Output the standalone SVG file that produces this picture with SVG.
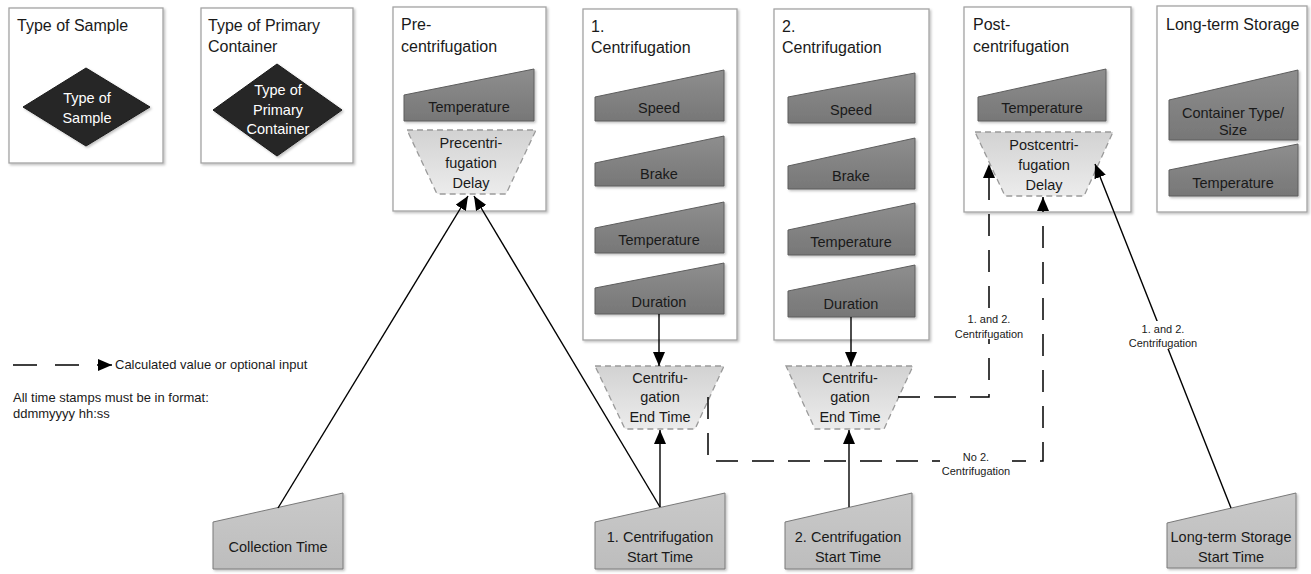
<svg xmlns="http://www.w3.org/2000/svg" width="1311" height="574" viewBox="0 0 1311 574">
<defs>
  <linearGradient id="gDark" x1="0" y1="0" x2="0" y2="1">
    <stop offset="0" stop-color="#8e8e8e"/>
    <stop offset="1" stop-color="#777777"/>
  </linearGradient>
  <linearGradient id="gLight" x1="0" y1="0" x2="0" y2="1">
    <stop offset="0" stop-color="#c9c9c9"/>
    <stop offset="1" stop-color="#bdbdbd"/>
  </linearGradient>
  <linearGradient id="gTrap" x1="0" y1="0" x2="0" y2="1">
    <stop offset="0" stop-color="#d2d2d2"/>
    <stop offset="1" stop-color="#ececec"/>
  </linearGradient>
  <filter id="sh" x="-10%" y="-10%" width="130%" height="130%">
    <feDropShadow dx="1.5" dy="1.5" stdDeviation="1.2" flood-color="#000" flood-opacity="0.25"/>
  </filter>
  <marker id="ah" viewBox="0 0 14 12" refX="14" refY="6" markerWidth="14" markerHeight="12" markerUnits="userSpaceOnUse" orient="auto">
    <path d="M0,0 L14,6 L0,12 Z" fill="#000"/>
  </marker>
</defs>
<style>
  .box { fill: #ffffff; stroke: #a3a3a3; stroke-width: 1.3; filter: url(#sh); }
  .dark { fill: url(#gDark); stroke: #5e5e5e; stroke-width: 1; filter: url(#sh); }
  .light { fill: url(#gLight); stroke: #7a7a7a; stroke-width: 1; filter: url(#sh); }
  .trap { fill: url(#gTrap); stroke: #9a9a9a; stroke-width: 1.3; stroke-dasharray: 6 4; }
  .dia { fill: #262626; stroke: #1a1a1a; stroke-width: 1; filter: url(#sh); }
  text { font-family: "Liberation Sans", Arial, sans-serif; fill: #1a1a1a; }
  .title { font-size: 16px; }
  .lbl { font-size: 14.5px; text-anchor: middle; }
  .wlbl { font-size: 14.5px; text-anchor: middle; fill: #ffffff; }
  .small { font-size: 11px; text-anchor: middle; }
  .note { font-size: 13px; }
  .solid { fill: none; stroke: #000; stroke-width: 1.4; }
  .dash { fill: none; stroke: #000; stroke-width: 1.5; stroke-dasharray: 22 14; }
</style>

<g id="type-of-sample">
  <rect class="box" x="9" y="8" width="154" height="155"/>
  <text class="title" x="17" y="31">Type of Sample</text>
  <polygon class="dia" points="23,107 86,68 150,107 86,146"/>
  <text class="wlbl" x="87" y="103">Type of</text>
  <text class="wlbl" x="87" y="123">Sample</text>
</g>

<g id="type-of-primary-container">
  <rect class="box" x="201" y="8" width="152" height="155"/>
  <text class="title" x="208" y="31">Type of Primary</text>
  <text class="title" x="208" y="52">Container</text>
  <polygon class="dia" points="213,110 277,64 342,110 277,156"/>
  <text class="wlbl" x="278" y="95">Type of</text>
  <text class="wlbl" x="278" y="115">Primary</text>
  <text class="wlbl" x="278" y="134">Container</text>
</g>

<g id="pre-centrifugation">
  <rect class="box" x="393" y="7" width="153" height="204"/>
  <text class="title" x="401" y="30">Pre-</text>
  <text class="title" x="401" y="52">centrifugation</text>
  <polygon class="dark" points="404,95 534,69 534,121 404,121"/>
  <text class="lbl" x="469" y="112">Temperature</text>
  <polygon class="trap" points="407,130 536,130 506,194 437,194"/>
  <text class="lbl" x="471" y="148">Precentri-</text>
  <text class="lbl" x="471" y="168">fugation</text>
  <text class="lbl" x="471" y="188">Delay</text>
</g>

<g id="centrifugation-1">
  <rect class="box" x="583" y="9" width="154" height="331"/>
  <text class="title" x="591" y="32">1.</text>
  <text class="title" x="591" y="53">Centrifugation</text>
  <polygon class="dark" points="595,97 724,70 724,121 595,121"/>
  <text class="lbl" x="659" y="113">Speed</text>
  <polygon class="dark" points="595,163 724,136 724,186 595,186"/>
  <text class="lbl" x="659" y="179">Brake</text>
  <polygon class="dark" points="595,228 724,202 724,253 595,253"/>
  <text class="lbl" x="659" y="245">Temperature</text>
  <polygon class="dark" points="595,288 724,263 724,314 595,314"/>
  <text class="lbl" x="659" y="307">Duration</text>
</g>

<g id="centrifugation-2">
  <rect class="box" x="774" y="9" width="155" height="331"/>
  <text class="title" x="782" y="32">2.</text>
  <text class="title" x="782" y="53">Centrifugation</text>
  <polygon class="dark" points="788,97 915,73 915,123 788,123"/>
  <text class="lbl" x="851" y="115">Speed</text>
  <polygon class="dark" points="788,166 915,138 915,189 788,189"/>
  <text class="lbl" x="851" y="181">Brake</text>
  <polygon class="dark" points="788,230 915,203 915,255 788,255"/>
  <text class="lbl" x="851" y="247">Temperature</text>
  <polygon class="dark" points="788,291 915,265 915,317 788,317"/>
  <text class="lbl" x="851" y="309">Duration</text>
</g>

<g id="post-centrifugation">
  <rect class="box" x="964" y="7" width="167" height="205"/>
  <text class="title" x="973" y="30">Post-</text>
  <text class="title" x="973" y="52">centrifugation</text>
  <polygon class="dark" points="978,97 1106,69 1106,121 978,121"/>
  <text class="lbl" x="1042" y="113">Temperature</text>
  <polygon class="trap" points="975,132 1113,132 1084,196 1005,196"/>
  <text class="lbl" x="1044" y="150">Postcentri-</text>
  <text class="lbl" x="1044" y="170">fugation</text>
  <text class="lbl" x="1044" y="190">Delay</text>
</g>

<g id="long-term-storage">
  <rect class="box" x="1157" y="6" width="150" height="206"/>
  <text class="title" x="1166" y="30">Long-term Storage</text>
  <polygon class="dark" points="1169,100 1298,70 1298,140 1169,140"/>
  <text class="lbl" x="1233" y="118">Container Type/</text>
  <text class="lbl" x="1233" y="135">Size</text>
  <polygon class="dark" points="1169,170 1298,144 1298,196 1169,196"/>
  <text class="lbl" x="1233" y="188">Temperature</text>
</g>

<g id="centrifugation-end-time-1">
  <polygon class="trap" points="595,366 724,366 695,429 625,429"/>
  <text class="lbl" x="660" y="383">Centrifu-</text>
  <text class="lbl" x="660" y="402">gation</text>
  <text class="lbl" x="660" y="422">End Time</text>
</g>

<g id="centrifugation-end-time-2">
  <polygon class="trap" points="786,366 913,366 884,429 815,429"/>
  <text class="lbl" x="850" y="383">Centrifu-</text>
  <text class="lbl" x="850" y="402">gation</text>
  <text class="lbl" x="850" y="422">End Time</text>
</g>

<g id="collection-time">
  <polygon class="light" points="213,522 343,493 343,569 213,569"/>
  <text class="lbl" x="278" y="552">Collection Time</text>
</g>

<g id="centrifugation-1-start-time">
  <polygon class="light" points="595,522 725,493 725,569 595,569"/>
  <text class="lbl" x="660" y="542">1. Centrifugation</text>
  <text class="lbl" x="660" y="562">Start Time</text>
</g>

<g id="centrifugation-2-start-time">
  <polygon class="light" points="785,522 912,493 912,569 785,569"/>
  <text class="lbl" x="848" y="542">2. Centrifugation</text>
  <text class="lbl" x="848" y="562">Start Time</text>
</g>

<g id="long-term-storage-start-time">
  <polygon class="light" points="1167,523 1296,493 1296,568 1167,568"/>
  <text class="lbl" x="1231" y="542">Long-term Storage</text>
  <text class="lbl" x="1231" y="562">Start Time</text>
</g>

<g id="connectors">
  <line class="solid" x1="278" y1="508" x2="468" y2="196" marker-end="url(#ah)"/>
  <line class="solid" x1="660" y1="507" x2="474" y2="196" marker-end="url(#ah)"/>
  <line class="solid" x1="660" y1="507" x2="660" y2="430" marker-end="url(#ah)"/>
  <line class="solid" x1="659" y1="314" x2="659" y2="366" marker-end="url(#ah)"/>
  <line class="solid" x1="851" y1="317" x2="851" y2="366" marker-end="url(#ah)"/>
  <line class="solid" x1="849" y1="507" x2="849" y2="430" marker-end="url(#ah)"/>
  <path class="dash" d="M708,397 L708,461 L1043,461 L1043,197" marker-end="url(#ah)"/>
  <path class="dash" d="M898,397 L989,397 L989,164" marker-end="url(#ah)"/>
  <line class="solid" x1="1231" y1="508" x2="1095" y2="164" marker-end="url(#ah)"/>
  <rect x="940" y="450" width="72" height="28" fill="#ffffff"/>
  <text class="small" x="976" y="461">No 2.</text>
  <text class="small" x="976" y="475">Centrifugation</text>
  <rect x="952" y="311" width="74" height="28" fill="#ffffff"/>
  <text class="small" x="989" y="323">1. and 2.</text>
  <text class="small" x="989" y="338">Centrifugation</text>
  <rect x="1126" y="321" width="74" height="28" fill="#ffffff"/>
  <text class="small" x="1163" y="333">1. and 2.</text>
  <text class="small" x="1163" y="347">Centrifugation</text>
</g>

<g id="legend">
  <line x1="13" y1="365" x2="112" y2="365" stroke="#000" stroke-width="1.5" stroke-dasharray="24 18" marker-end="url(#ah)"/>
  <text class="note" x="115" y="369">Calculated value or optional input</text>
  <text class="note" x="13" y="402">All time stamps must be in format:</text>
  <text class="note" x="13" y="418">ddmmyyyy hh:ss</text>
</g>
</svg>
